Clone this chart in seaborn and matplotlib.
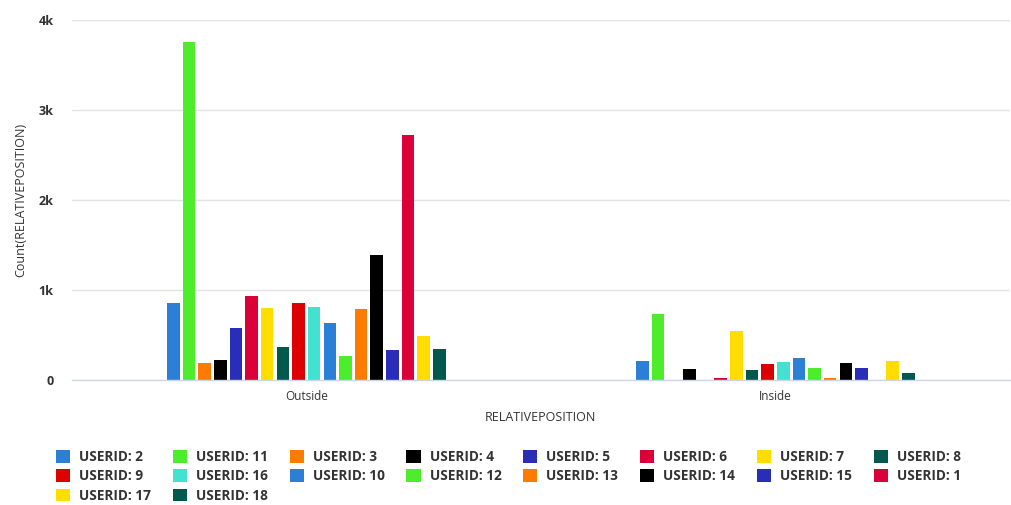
import numpy as np
import pandas as pd
import matplotlib
matplotlib.use("Agg")
import matplotlib.pyplot as plt
import seaborn as sns

# data
positions = ["Outside", "Inside"]
user_ids = [2, 11, 3, 4, 5, 6, 7, 8, 9, 16, 10, 12, 13, 14, 15, 1, 17, 18]
outside = [860, 3750, 185, 222, 574, 933, 796, 370, 860, 808, 637, 270, 786, 1385, 330, 2720, 489, 344]
inside = [211, 733, 0, 126, 0, 20, 548, 111, 174, 196, 244, 137, 26, 185, 137, 0, 211, 78]
colors = ["#2b7fd6", "#4ded2b", "#ff7b00", "#000000", "#2a2db8", "#dc0038",
          "#ffdd00", "#00594c", "#dd0000", "#43e2d0", "#2b7fd6", "#4ded2b",
          "#ff7b00", "#000000", "#2a2db8", "#dc0038", "#ffdd00", "#00594c"]

labels = ["USERID: %d" % u for u in user_ids]
rows = []
for lab, o, i in zip(labels, outside, inside):
    rows.append({"RELATIVEPOSITION": "Outside", "user": lab, "count": o})
    rows.append({"RELATIVEPOSITION": "Inside", "user": lab, "count": i})
df = pd.DataFrame(rows)

sns.set_style("white")
plt.rcParams['font.family'] = ['Open Sans', 'DejaVu Sans']

fig = plt.figure(figsize=(10.11, 5.05), dpi=100)
ax = fig.add_axes([0.071, 0.2475, 0.928, 0.713])

sns.barplot(data=df, x="RELATIVEPOSITION", y="count", hue="user",
            order=positions, hue_order=labels, palette=colors,
            width=0.6, gap=0.2, saturation=1, errorbar=None,
            linewidth=0, ax=ax)

ax.set_xlim(-0.5, 1.5)
ax.set_ylim(0, 4000)
ax.set_yticks([0, 1000, 2000, 3000, 4000])
ax.set_yticklabels(["0", "1k", "2k", "3k", "4k"], fontsize=9,
                   fontweight="bold", color="#333333")
ax.tick_params(axis="y", length=0, pad=13)
ax.tick_params(axis="x", length=0, pad=7, labelsize=8.5, labelcolor="#333333")
ax.grid(axis="y", color="#e3e3e3", linewidth=1)
ax.set_axisbelow(True)
for s in ["top", "right", "left"]:
    ax.spines[s].set_visible(False)
ax.spines["bottom"].set_color("#ccd6eb")
ax.spines["bottom"].set_linewidth(1)

ax.set_xlabel("RELATIVEPOSITION", fontsize=9, color="#333333", labelpad=6)
ax.set_ylabel("Count(RELATIVEPOSITION)", fontsize=9, color="#333333", labelpad=8)

handles, labs = ax.get_legend_handles_labels()
ax.get_legend().remove()
ncol = 8
order = []
for c in range(ncol):
    for r in range(3):
        k = r * ncol + c
        if k < len(labs):
            order.append(k)
leg = fig.legend([handles[k] for k in order], [labs[k] for k in order],
                 ncol=ncol, loc="upper left", bbox_to_anchor=(0.05, 0.12),
                 frameon=False, prop={"weight": "bold", "size": 9.8},
                 handlelength=1.05, handleheight=1.05, handletextpad=0.65,
                 columnspacing=1.6, labelspacing=0.4, borderaxespad=0)
for t in leg.get_texts():
    t.set_color("#333333")

plt.savefig("out.png", dpi=100)
